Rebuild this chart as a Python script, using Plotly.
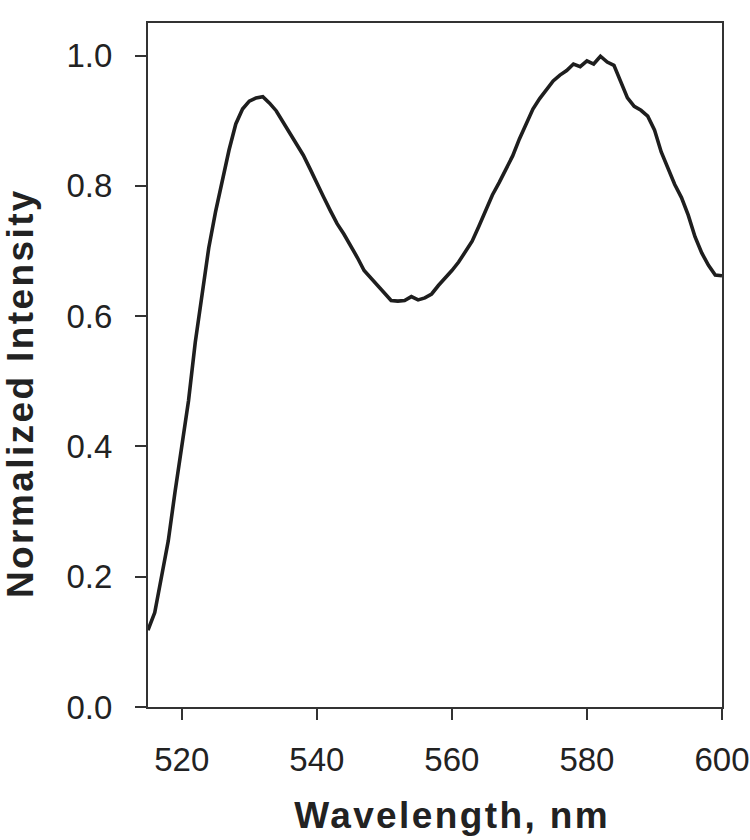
import plotly.graph_objects as go

wavelength_nm = list(range(515, 601))
normalized_intensity = [
    0.118, 0.145, 0.200, 0.255, 0.330, 0.400, 0.470, 0.560, 0.630, 0.705,
    0.760, 0.810, 0.855, 0.895, 0.918, 0.930, 0.935, 0.937, 0.927, 0.915,
    0.898, 0.880, 0.862, 0.847, 0.826, 0.806, 0.783, 0.762, 0.742, 0.726,
    0.709, 0.690, 0.670, 0.658, 0.647, 0.636, 0.624, 0.623, 0.624, 0.630,
    0.625, 0.628, 0.634, 0.647, 0.658, 0.670, 0.683, 0.698, 0.715, 0.738,
    0.762, 0.786, 0.805, 0.825, 0.846, 0.872, 0.896, 0.918, 0.934, 0.948,
    0.961, 0.970, 0.977, 0.987, 0.983, 0.992, 0.987, 0.999, 0.990, 0.985,
    0.960, 0.935, 0.922, 0.916, 0.907, 0.886, 0.852, 0.826, 0.802, 0.782,
    0.755, 0.722, 0.697, 0.678, 0.663, 0.662,
]
x_tick_vals = [520, 540, 560, 580, 600]
y_tick_vals = [0.0, 0.2, 0.4, 0.6, 0.8, 1.0]
x_title = "Wavelength, nm"
y_title = "Normalized Intensity"

W, H = 750, 840
L, T = 148, 23
pw, ph = 574, 684
R, B = W - L - pw, H - T - ph

fig = go.Figure(go.Scatter(
    x=wavelength_nm, y=normalized_intensity, mode="lines",
    line=dict(color="#1e1e1e", width=3.6), showlegend=False,
))

axis_common = dict(
    showgrid=False, zeroline=False, showline=True, linecolor="#333333",
    linewidth=2, mirror=True, ticks="outside", ticklen=11, tickwidth=2,
    tickcolor="#333333", automargin=False,
    tickfont=dict(family="Liberation Sans, Arial, sans-serif", size=33, color="#222222"),
)

fig.update_xaxes(range=[515, 600], tickvals=x_tick_vals,
                 ticktext=[str(v) for v in x_tick_vals],
                 ticklabelstandoff=11, **axis_common)
fig.update_yaxes(range=[0, 1.05], tickvals=y_tick_vals,
                 ticktext=[f"{v:.1f}" for v in y_tick_vals],
                 ticklabelstandoff=16, **axis_common)

title_font = dict(family="Liberation Sans, Arial, sans-serif", size=37, color="#222222")
fig.add_annotation(
    text=f"<b>{x_title}</b>", xref="paper", yref="paper",
    x=(452 - L) / pw, y=(707 - 815) / ph, xanchor="center", yanchor="middle",
    showarrow=False, font=title_font,
)
fig.add_annotation(
    text=f"<b>{y_title}</b>", xref="paper", yref="paper",
    x=(20 - L) / pw, y=(707 - 393) / ph, xanchor="center", yanchor="middle",
    textangle=-90, showarrow=False, font=title_font,
)

fig.update_layout(
    width=W, height=H, margin=dict(l=L, r=R, t=T, b=B),
    plot_bgcolor="white", paper_bgcolor="white",
)

post = (
    "document.body.style.margin='0';"
    "document.body.style.overflow='hidden';"
    "document.querySelectorAll('.annotation-text').forEach(function(e){"
    "e.style.letterSpacing='2.4px';});"
)
fig.write_html("out.html", post_script=post, config={"displayModeBar": False})
